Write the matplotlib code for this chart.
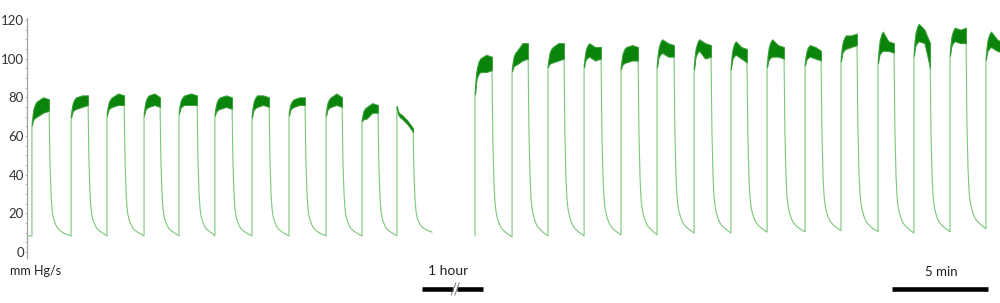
import numpy as np
import matplotlib.pyplot as plt
from matplotlib.lines import Line2D
from matplotlib.ticker import MultipleLocator

plt.rcParams['font.family'] = ['Lato', 'DejaVu Sans']

# time in minutes from the start of the recording shown at the y axis
# --- segment before the 1 hour break ---
left_on = [0.26, 2.32, 4.21, 6.16, 8.00, 9.89, 11.84, 13.79, 15.74, 17.63, 19.47]
left_off = [1.16, 3.21, 5.11, 7.00, 8.95, 10.79, 12.74, 14.63, 16.58, 18.47, 20.32]
left_jump = [66, 70, 71, 71, 72, 71, 70, 71, 71, 68, 75]
# upper / lower edge of the noisy plateau at 30 %, 65 % and 100 % of each pulse
left_hi = [[78, 80, 79], [80, 81, 81], [80, 82, 81], [81, 82, 80], [81, 82, 81], [80, 81, 80],
           [81, 81, 80], [79, 80, 80], [80, 82, 80], [75, 77, 76], [71, 68, 64]]
left_lo = [[70, 72, 73], [74, 75, 76], [75, 76, 76], [75, 76, 75], [76, 76, 76], [74, 75, 74],
           [75, 76, 75], [75, 76, 76], [75, 76, 75], [69, 72, 72], [69, 66, 62]]
left_base = [8.3, 8.3, 8.3, 8.3, 8.3, 8.3, 8.3, 8.3, 8.3, 8.3, 10.0]
left_start = (0.0, 8.3)
left_end = (21.32, 10.3)

# --- segment after the break ---
right_on = [23.58, 25.53, 27.42, 29.32, 31.26, 33.16, 35.11, 37.05, 38.95, 40.95,
            42.84, 44.79, 46.68, 48.58, 50.47]
right_off = [24.47, 26.37, 28.26, 30.21, 32.16, 34.05, 36.00, 37.89, 39.84, 41.79,
             43.68, 45.63, 47.53, 49.42, 51.37]
right_jump = [82, 94, 96, 96, 95, 96, 95, 95, 96, 97, 99, 98, 102, 102, 100]
right_hi = [[100, 102, 101], [104, 108, 108], [106, 108, 108], [108, 106, 106], [106, 107, 106],
            [110, 108, 107], [110, 108, 107], [109, 106, 105], [110, 107, 106], [107, 106, 104],
            [112, 112, 113], [114, 109, 108], [118, 115, 108], [116, 115, 116], [114, 110, 108]]
right_lo = [[93, 93, 94], [97, 99, 100], [98, 99, 100], [101, 99, 100], [98, 99, 99],
            [103, 101, 101], [104, 100, 101], [102, 100, 98], [101, 101, 100], [101, 100, 99],
            [105, 106, 107], [104, 104, 103], [109, 108, 95], [109, 108, 108], [106, 104, 103]]
right_base = [7.8, 8.3, 8.3, 8.8, 8.8, 9.8, 9.8, 10.3, 10.4, 11.0, 10.5, 9.8, 10.5, 12.0, 12.0]
right_start = (23.58, 8.3)

# shape of the onset rounding and of the relaxation
rise_f = [0.0, 0.05, 0.10, 0.20, 0.30]
rise_r = [0.0, 0.45, 0.70, 0.90, 1.0]
decay_t = [0.0, 0.05, 0.11, 0.16, 0.21, 0.26, 0.37, 0.47, 0.63, 0.79]
decay_r = [1.0, 0.55, 0.30, 0.20, 0.15, 0.12, 0.08, 0.055, 0.035, 0.02]

y_ticks = [0, 20, 40, 60, 80, 100, 120]


def build(start, on, off, jump, hi, lo, base, end=None):
    t, v = [start[0]], [start[1]]
    bands = []
    prev = start[1]
    for i in range(len(on)):
        dur = off[i] - on[i]
        mid = [(h + l) / 2 for h, l in zip(hi[i], lo[i])]
        half = [(h - l) / 2 for h, l in zip(hi[i], lo[i])]
        bt, bh, bl = [], [], []
        t += [on[i]]
        v += [prev]
        for f, r in zip(rise_f, rise_r):
            m = jump[i] + r * (mid[0] - jump[i])
            w = 0.5 + r * (half[0] - 0.5)
            t.append(on[i] + f * dur)
            v.append(m)
            bt.append(on[i] + f * dur); bh.append(m + w); bl.append(m - w)
        for f, m, w in zip([0.65, 1.0], mid[1:], half[1:]):
            t.append(on[i] + f * dur)
            v.append(m)
            bt.append(on[i] + f * dur); bh.append(m + w); bl.append(m - w)
        bands.append((bt, bh, bl))
        for dt, r in zip(decay_t[1:], decay_r[1:]):
            if end is not None and off[i] + dt > end[0]:
                break
            t.append(off[i] + dt)
            v.append(base[i] + r * (mid[-1] - base[i]))
        prev = base[i]
    if end is not None:
        t.append(end[0]); v.append(end[1])
    return t, v, bands


fig = plt.figure(figsize=(10, 3.03), dpi=100)
ax = fig.add_axes([0.027, 0.1492, 0.973, 0.7914])

for seg in [build(left_start, left_on, left_off, left_jump, left_hi, left_lo, left_base, left_end),
            build(right_start, right_on, right_off, right_jump, right_hi, right_lo, right_base)]:
    t, v, bands = seg
    ax.plot(t, v, color='#5cb85c', lw=0.8, alpha=0.8, zorder=2)
    for bt, bh, bl in bands:
        ax.fill_between(bt, bl, bh, color='#0b840b', lw=0.7, edgecolor='#3a9f3a', zorder=3)

ax.set_xlim(0, 51.21)
ax.set_ylim(-3, 121)
ax.set_yticks(y_ticks)
ax.yaxis.set_minor_locator(MultipleLocator(5))
ax.tick_params(axis='y', which='both', length=1.5, width=0.6, color='#b0b0b0',
               labelsize=9.5, labelcolor='#333333', pad=0.8)
ax.set_xticks([])
for s in ['top', 'right', 'bottom']:
    ax.spines[s].set_visible(False)
ax.spines['left'].set_color('#a0a0a0')
ax.spines['left'].set_linewidth(0.9)

# labels and scale bars
fig.text(0.010, 1 - 271 / 303, 'mm Hg/s', fontsize=9, color='#222222', va='center', ha='left')
fig.text(0.448, 1 - 271 / 303, '1 hour', fontsize=10, color='#222222', va='center', ha='center')
fig.text(0.941, 1 - 272 / 303, '5 min', fontsize=9.5, color='#222222', va='center', ha='center')

yb = 1 - 288.7 / 303
fig.add_artist(Line2D([0.4215, 0.4525], [yb, yb], transform=fig.transFigure, color='black', lw=3.3,
                      solid_capstyle='butt'))
fig.add_artist(Line2D([0.4565, 0.4827], [yb, yb], transform=fig.transFigure, color='black', lw=3.3,
                      solid_capstyle='butt'))
for x0 in [0.4513, 0.4548]:
    fig.add_artist(Line2D([x0, x0 + 0.0045], [1 - 295 / 303, 1 - 283 / 303], transform=fig.transFigure,
                          color='#777777', lw=0.7))
fig.add_artist(Line2D([0.892, 0.988], [yb, yb], transform=fig.transFigure, color='black', lw=3.3,
                      solid_capstyle='butt'))

fig.savefig('out.png', dpi=100)
